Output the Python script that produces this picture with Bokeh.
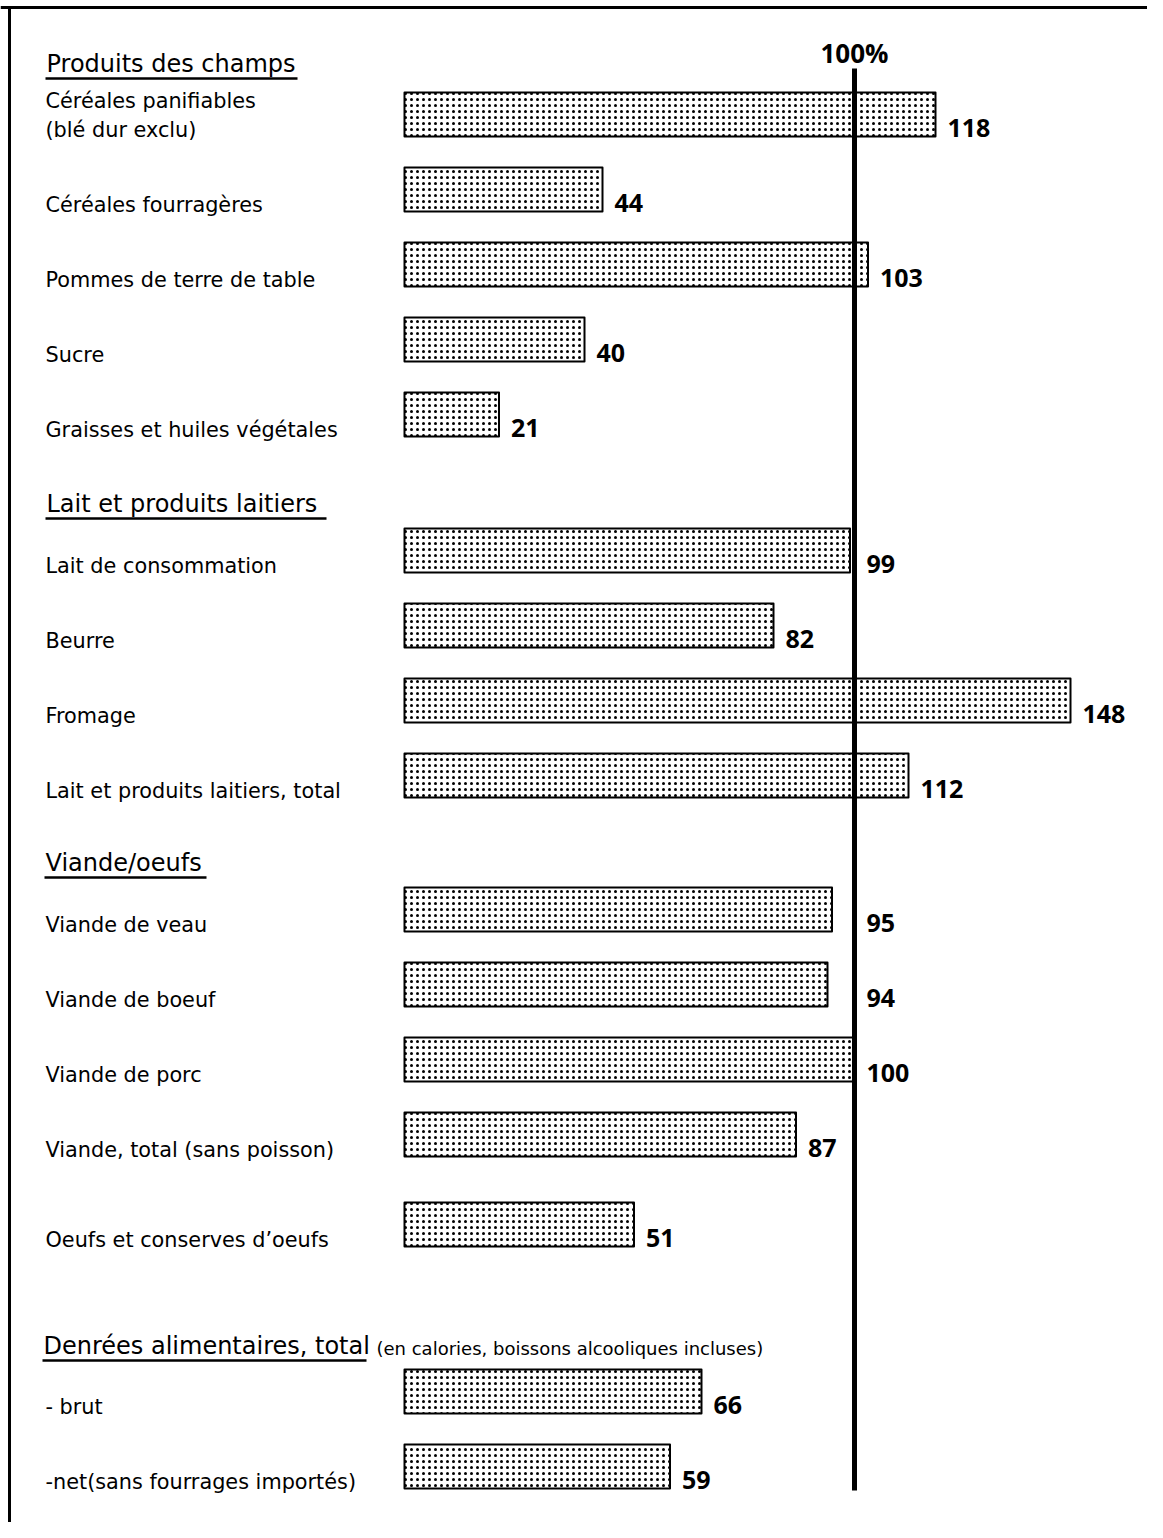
from bokeh.plotting import figure
from bokeh.models import Range1d, ColumnDataSource
from bokeh.core.properties import value
from bokeh.embed import file_html
from bokeh.resources import INLINE

# ---------------- data ----------------
group_titles = ["Produits des champs", "Lait et produits laitiers", "Viande/oeufs",
                "Denrées alimentaires, total"]
group_notes = ["", "", "", "(en calories, boissons alcooliques incluses)"]

items_champs = ["Céréales panifiables\n(blé dur exclu)", "Céréales fourragères",
                "Pommes de terre de table", "Sucre", "Graisses et huiles végétales"]
values_champs = [118, 44, 103, 40, 21]

items_lait = ["Lait de consommation", "Beurre", "Fromage", "Lait et produits laitiers, total"]
values_lait = [99, 82, 148, 112]

items_viande = ["Viande de veau", "Viande de boeuf", "Viande de porc",
                "Viande, total (sans poisson)", "Oeufs et conserves d\u2019oeufs"]
values_viande = [95, 94, 100, 87, 51]

items_total = ["- brut", "-net(sans fourrages importés)"]
values_total = [66, 59]

reference_value = 100
reference_label = "100%"

groups_items = [items_champs, items_lait, items_viande, items_total]
groups_values = [values_champs, values_lait, values_viande, values_total]

# ---------------- layout (pixels) ----------------
W, H = 1147, 1522
PX = 4.5            # pixels per percent
X0 = 404            # pixel position of 0 %
LABEL_FONT = value("DejaVu Sans")
NUM_FONT = value("Open Sans")
pitch = 75
header_to_bar = [51, 47, 47, 46]
bar_to_header = [0, 89, 87, 121]
first_header_y = 63
extra_before = {"Oeufs et conserves d\u2019oeufs": 15}
header_x = [46, 46, 45, 43]
underline_w = [252, 281, 162, 324]
bar_h = 44


def px_to_x(px):
    return (px - X0) / PX


# compute row positions
bar_y, bar_v, bar_lab = [], [], []
head_y = []
for g, (its, vals) in enumerate(zip(groups_items, groups_values)):
    y = first_header_y if g == 0 else bar_y[-1] + bar_to_header[g]
    head_y.append(y)
    yy = y + header_to_bar[g]
    for k, (it, v) in enumerate(zip(its, vals)):
        if k > 0:
            yy += pitch + extra_before.get(it, 0)
        bar_y.append(yy)
        bar_v.append(v)
        bar_lab.append(it)

p = figure(width=W, height=H, x_range=Range1d(px_to_x(0), px_to_x(W)),
           y_range=Range1d(H, 0), output_backend="svg", toolbar_location=None,
           x_axis_type=None, y_axis_type=None, min_border=0)
p.grid.visible = False
p.outline_line_color = None
p.background_fill_color = "white"

# frame (top and left edges)
p.segment(x0=[px_to_x(0), px_to_x(9)], y0=[7, 6], x1=[px_to_x(W), px_to_x(9)], y1=[7, H],
          line_color="black", line_width=3)

src = ColumnDataSource(dict(y=bar_y, v=bar_v))
p.hbar(y="y", left=0, right="v", height=bar_h, source=src, fill_color="white",
       line_color="black", line_width=2, line_join="round", hatch_pattern="dot",
       hatch_scale=6, hatch_color="black", hatch_weight=1.5)

# reference line
p.segment(x0=[reference_value], y0=[68], x1=[reference_value], y1=[1490],
          line_color="black", line_width=5)
p.text(x=[reference_value], y=[52], text=[reference_label], text_font=NUM_FONT,
       text_font_size="26px", text_font_style="bold", text_align="center",
       text_baseline="middle")

# item labels
lx, ly, lt = [], [], []
for yy, lab in zip(bar_y, bar_lab):
    lines = lab.split("\n")
    n = len(lines)
    for i, ln in enumerate(lines):
        lx.append(px_to_x(45))
        ly.append(yy + 15 - (n - 1 - i) * 29)
        lt.append(ln)
p.text(x=lx, y=ly, text=lt, text_font=LABEL_FONT, text_font_size="20.8px",
       text_baseline="middle", text_align="left", text_color="black")

# value labels
vx = [max(v, reference_value) if (reference_value - 10 < v < reference_value) else v for v in bar_v]
p.text(x=vx, y=[yy + 13 for yy in bar_y], text=[str(v) for v in bar_v], text_font=NUM_FONT,
       text_font_size="25px", text_font_style="bold", text_baseline="middle",
       text_align="left", x_offset=12)

# group headers
p.text(x=[px_to_x(hx) for hx in header_x], y=head_y, text=group_titles, text_font=LABEL_FONT,
       text_font_size="24px", text_baseline="middle", text_align="left")
p.segment(x0=[px_to_x(hx - 1) for hx in header_x], y0=[h + 15 for h in head_y],
          x1=[px_to_x(hx - 1 + w) for hx, w in zip(header_x, underline_w)],
          y1=[h + 15 for h in head_y], line_color="black", line_width=2.5)
nx = [px_to_x(hx + w + 9) for hx, w in zip(header_x, underline_w)]
p.text(x=[nx[i] for i in range(4) if group_notes[i]],
       y=[head_y[i] + 3 for i in range(4) if group_notes[i]],
       text=[n for n in group_notes if n], text_font=LABEL_FONT, text_font_size="18px",
       text_baseline="middle", text_align="left")

open("out.html", "w").write(file_html(p, INLINE))
